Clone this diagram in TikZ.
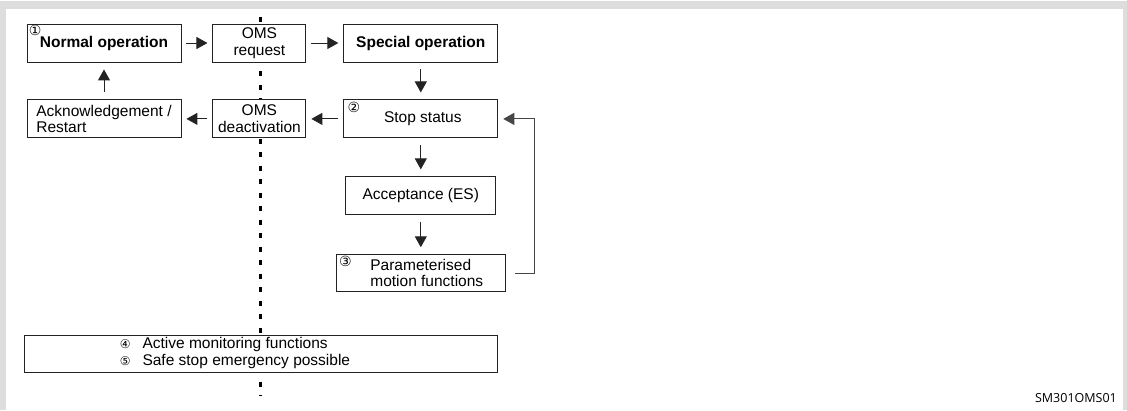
\documentclass[tikz,border=0pt]{standalone}
\usepackage{fontspec}
\setmainfont{Liberation Sans}
\newfontfamily\circfont{DejaVu Sans}
\newfontfamily\codefont{Open Sans}
\usepackage{tikz}
\usetikzlibrary{arrows.meta,positioning}
\definecolor{framegrey}{RGB}{221,221,221}
\definecolor{inkgrey}{RGB}{35,35,35}
\definecolor{loopgrey}{RGB}{70,70,70}
\tikzset{
  stage/.style={draw=inkgrey,line width=0.9pt,fill=white,minimum height=38pt,
    inner sep=2pt,align=center,text=black,
    font=\fontsize{15.5}{16.5}\selectfont},
  bodytext/.style={inner sep=0pt,text=black,font=\fontsize{15.5}{16.5}\selectfont},
  tagnum/.style={inner sep=0pt,text=black,font=\circfont\fontsize{14}{14}\selectfont},
  flow/.style={-{Triangle[length=11pt,width=12pt]},line width=1pt,draw=inkgrey,
    shorten <=5pt,shorten >=5pt},
  downflow/.style={flow,shorten <=7pt,shorten >=7pt},
  backflow/.style={-{Triangle[length=11pt,width=12pt]},line width=1pt,draw=loopgrey,
    shorten >=5pt},
  divider/.style={draw=black,line width=3pt,dash pattern=on 5pt off 8.5pt},
  framebar/.style={fill=framegrey,draw=none}
}

\begin{document}
\begin{tikzpicture}[x=1pt,y=-1pt]
  \useasboundingbox[fill=white] (0,0) rectangle (1127,410);
  % page frame
  \path[framebar] (0,1) rectangle (1127,9);
  \path[framebar] (0,1) rectangle (6,410);
  \path[framebar] (1123,1) rectangle (1127,410);
  % OMS boundary
  \coordinate (divtop) at (260,17);
  \coordinate (divbot) at (260,396);
  \draw[divider] (divtop) -- (divbot);
  % upper loop
  \node[stage,minimum width=154pt,label={[tagnum,anchor=north west,xshift=2pt,yshift=-1pt]north west:①}]
    (normal) at (104,43) {\bfseries Normal operation};
  \node[stage,minimum width=93pt,right=31pt of normal] (omsreq) {OMS\\request};
  \node[stage,minimum width=154pt,right=37pt of omsreq] (special) {\bfseries Special operation};
  \node[stage,minimum width=154pt,below=37pt of normal,align=left] (ack) {Acknowledgement /\\Restart};
  \node[stage,minimum width=93pt,below=37pt of omsreq] (omsdeact) {OMS\\deactivation};
  \node[stage,minimum width=154pt,below=37pt of special,
    label={[tagnum,anchor=north west,xshift=4pt,yshift=-3pt]north west:②}] (stop) {\hspace*{4pt}Stop status};
  \node[stage,minimum width=150pt,below=38pt of stop] (accept) {Acceptance (ES)};
  \node[stage,minimum width=169pt,minimum height=37pt,below=39pt of accept,align=left,
    label={[tagnum,anchor=north west,xshift=3pt,yshift=-2pt]north west:③}]
    (param) {\hspace*{12pt}Parameterised\\\hspace*{12pt}motion functions};
  % monitoring
  \node[stage,minimum width=473pt,minimum height=37pt] (monitor) at (260.5,354) {};
  \node[bodytext,anchor=west,align=left] (monitorlist) at ([xshift=96pt,yshift=1pt]monitor.west)
    {{\circfont\fontsize{12}{12}\selectfont ④}\hspace{12pt}Active monitoring functions\\
     {\circfont\fontsize{12}{12}\selectfont ⑤}\hspace{12pt}Safe stop emergency possible};
  % arrows
  \draw[flow] (normal) -- (omsreq);
  \draw[flow] (omsreq) -- (special);
  \draw[downflow] (special) -- (stop);
  \draw[flow] (stop) -- (omsdeact);
  \draw[flow] (omsdeact) -- (ack);
  \draw[downflow] (ack) -- (normal);
  \draw[downflow] (stop) -- (accept);
  \draw[downflow] (accept) -- (param);
  \draw[backflow] ([xshift=9pt]param.east) -| ([xshift=36pt]stop.east) -- (stop.east);
  % drawing number
  \node[anchor=base east,inner sep=0pt,font=\codefont\fontsize{12.5}{12.5}\selectfont]
    (drawno) at (1117,402) {SM301OMS01};
\end{tikzpicture}
\end{document}
